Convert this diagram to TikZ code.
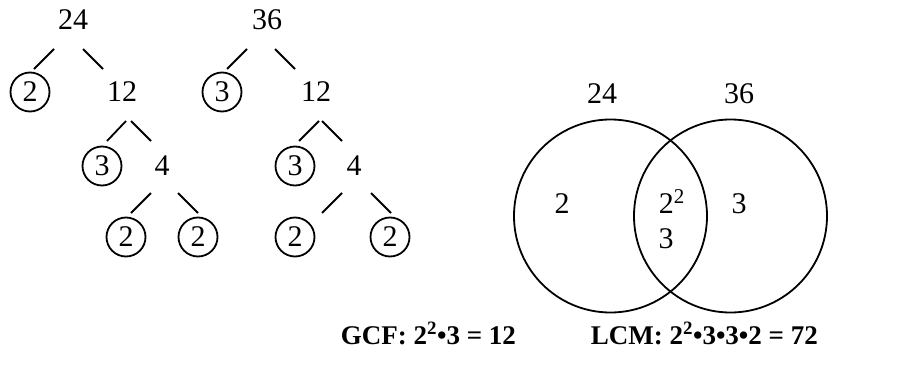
\documentclass[tikz,border=0pt]{standalone}
\usepackage{fontspec}
\setmainfont{Liberation Serif}
\usepackage{tikz}

\begin{document}
\begin{tikzpicture}[x=1pt,y=-1pt,line width=1.8pt,
    num/.style={inner sep=0pt,font=\fontsize{30}{36}\selectfont},
    ring/.style={num,circle,draw,minimum size=39pt},
    sum/.style={inner sep=0pt,anchor=base west,font=\fontsize{27}{32}\selectfont\bfseries}]
    \useasboundingbox (0, 0) rectangle (918, 364);

    % factor tree of 24
    \node [num] (a24) at (73, 20) {24};
    \node [ring] (a2) at (30, 92) {2};
    \node [num] (a12) at (122, 92) {12};
    \node [ring] (a3) at (102, 166) {3};
    \node [num] (a4) at (162, 166) {4};
    \node [ring] (a2l) at (126, 237) {2};
    \node [ring] (a2r) at (198, 237) {2};
    \draw ([shift={(-19, 29)}]a24.center) -- ([shift={(4, -23)}]a2.center);
    \draw ([shift={(10, 29)}]a24.center) -- ([shift={(-19, -23)}]a12.center);
    \draw ([shift={(4, 29)}]a12.center) -- ([shift={(5, -25)}]a3.center);
    \draw ([shift={(9, 29)}]a12.center) -- ([shift={(-11, -25)}]a4.center);
    \draw ([shift={(-11, 27)}]a4.center) -- ([shift={(5, -24)}]a2l.center);
    \draw ([shift={(16, 27)}]a4.center) -- ([shift={(0, -24)}]a2r.center);

    % factor tree of 36
    \node [num] (b36) at (267, 20) {36};
    \node [ring] (b3) at (222, 92) {3};
    \node [num] (b12) at (316, 92) {12};
    \node [ring] (b3l) at (295, 166) {3};
    \node [num] (b4) at (354, 166) {4};
    \node [ring] (b2l) at (295, 237) {2};
    \node [ring] (b2r) at (390, 237) {2};
    \draw ([shift={(-20, 29)}]b36.center) -- ([shift={(5, -23)}]b3.center);
    \draw ([shift={(8, 29)}]b36.center) -- ([shift={(-21, -23)}]b12.center);
    \draw ([shift={(3, 29)}]b12.center) -- ([shift={(4, -25)}]b3l.center);
    \draw ([shift={(6, 29)}]b12.center) -- ([shift={(-12, -25)}]b4.center);
    \draw ([shift={(-12, 27)}]b4.center) -- ([shift={(27, -24)}]b2l.center);
    \draw ([shift={(17, 27)}]b4.center) -- ([shift={(1, -24)}]b2r.center);

    % venn diagram
    \node [circle, draw, minimum size=193pt] (setA) at (610.5, 216) {};
    \node [circle, draw, minimum size=193pt] (setB) at (730.5, 216) {};
    \node [num, anchor=base] (labA) at (602, 103) {24};
    \node [num, anchor=base] (labB) at (739, 103) {36};
    \node [num, anchor=base] (onlyA) at (562, 213) {2};
    \node [num, anchor=base west] (both) at (658, 213) {2\textsuperscript{2}};
    \node [num, anchor=base] (both3) at (666, 248) {3};
    \node [num, anchor=base] (onlyB) at (739, 213) {3};

    % results
    \node [sum] (gcf) at (340, 344) {GCF: 2\textsuperscript{2}•3 = 12};
    \node [sum] (lcm) at (590, 344) {LCM: 2\textsuperscript{2}•3•3•2 = 72};
\end{tikzpicture}
\end{document}
